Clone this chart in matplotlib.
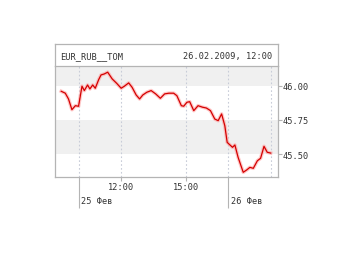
import matplotlib
matplotlib.use("Agg")
import matplotlib.pyplot as plt
import matplotlib.transforms as mtransforms

# trading hours since 25.02 10:00 (26.02 10:00 sits at 7.0)
hours = [-0.81, -0.62, -0.47, -0.31, -0.15, 0.0, 0.16, 0.27, 0.42, 0.53,
         0.66, 0.78, 0.94, 1.05, 1.20, 1.36, 1.57, 1.78, 1.99, 2.14,
         2.34, 2.50, 2.69, 2.85, 3.00, 3.19, 3.39, 3.60, 3.82, 4.02,
         4.22, 4.44, 4.59, 4.80, 4.91, 5.06, 5.19, 5.38, 5.58, 5.79,
         5.97, 6.16, 6.36, 6.52, 6.68, 6.83, 6.94, 7.07, 7.19, 7.30,
         7.45, 7.69, 7.85, 8.00, 8.16, 8.35, 8.50, 8.66, 8.81, 8.97]
rate = [45.959, 45.945, 45.903, 45.825, 45.854, 45.850, 45.996, 45.964, 46.005, 45.976,
        46.005, 45.981, 46.044, 46.078, 46.085, 46.098, 46.049, 46.017, 45.981, 45.996,
        46.020, 45.988, 45.932, 45.903, 45.932, 45.952, 45.964, 45.940, 45.908, 45.940,
        45.945, 45.945, 45.927, 45.854, 45.850, 45.879, 45.883, 45.818, 45.854, 45.843,
        45.837, 45.818, 45.757, 45.745, 45.794, 45.708, 45.587, 45.568, 45.551, 45.568,
        45.478, 45.369, 45.386, 45.405, 45.398, 45.453, 45.471, 45.558, 45.515, 45.509]

grid_hours = [0, 2, 5, 7, 9]
time_ticks = [2, 5]
time_labels = ['12:00', '15:00']
day_ticks = [0, 7]
day_labels = ['25 Фев', '26 Фев']
y_ticks = [45.50, 45.75, 46.00]
y_labels = ['45.50', '45.75', '46.00']
title_left = 'EUR_RUB__TOM'
title_right = '26.02.2009, 12:00'

W, H = 340.0, 255.0
frame = '#b4b4b4'
txt = '#333333'
font = 'DejaVu Sans Mono'

fig = plt.figure(figsize=(3.4, 2.55), dpi=100)
fig.patch.set_facecolor('white')

x0, x1 = 55.0, 277.5
ax = fig.add_axes([x0 / W, (H - 177.7) / H, (x1 - x0) / W, (177.7 - 67.0) / H])
hd = fig.add_axes([x0 / W, (H - 67.0) / H, (x1 - x0) / W, (67.0 - 44.7) / H])

ax.set_xlim(-1.1, 9.29)
ax.set_ylim(45.337, 46.143)

ax.axhspan(45.50, 45.75, color='#f0f0f0', lw=0, zorder=0)
ax.axhspan(46.00, 46.2, color='#f0f0f0', lw=0, zorder=0)
for g in grid_hours:
    ax.axvline(g, color='#c8ccd8', lw=0.8, ls=(0, (1.5, 2)), zorder=1)

ax.plot(hours, rate, color='#ff9a9a', lw=2.6, alpha=0.55, solid_joinstyle='round', zorder=2)
ax.plot(hours, rate, color='#d40000', lw=0.9, solid_joinstyle='round', zorder=3)

for s in ax.spines.values():
    s.set_color(frame)
    s.set_linewidth(0.9)
ax.spines['top'].set_visible(False)

ax.yaxis.tick_right()
ax.set_yticks(y_ticks)
ax.set_yticklabels(y_labels, fontfamily=font, fontsize=6.2, color=txt)
ax.tick_params(axis='y', length=3, width=0.8, color=frame, pad=1)

ax.set_xticks(day_ticks)
ax.set_xticklabels([])
ax.tick_params(axis='x', which='major', length=22, width=0.8, color=frame)
ax.set_xticks(time_ticks, minor=True)
ax.set_xticklabels(time_labels, minor=True, fontfamily=font, fontsize=6.2, color=txt)
ax.tick_params(axis='x', which='minor', length=3, width=0.8, color=frame, pad=1)

trans = mtransforms.blended_transform_factory(ax.transData, ax.transAxes)
for d, lab in zip(day_ticks, day_labels):
    ax.text(d + 0.12, -0.175, lab, transform=trans, ha='left', va='top',
            fontfamily=font, fontsize=6.2, color=txt)

hd.set_xticks([])
hd.set_yticks([])
for s in hd.spines.values():
    s.set_color(frame)
    s.set_linewidth(0.9)
hd.text(0.025, 0.45, title_left, transform=hd.transAxes, ha='left', va='center',
        fontfamily=font, fontsize=6.2, color=txt)
hd.text(0.975, 0.45, title_right, transform=hd.transAxes, ha='right', va='center',
        fontfamily=font, fontsize=6.2, color=txt)

fig.savefig('out.png', dpi=100)
